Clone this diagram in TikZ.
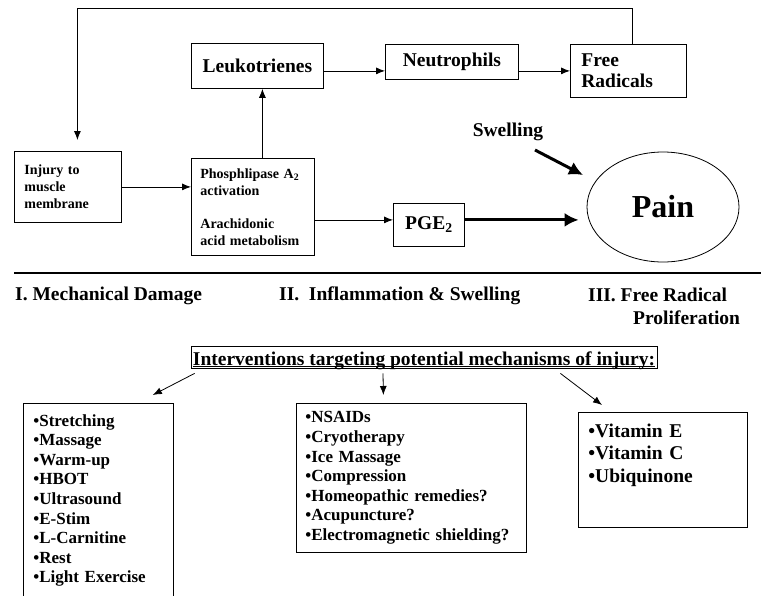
\documentclass[tikz,border=0pt]{standalone}
\usepackage{fontspec}
\setmainfont{Liberation Serif}
\usetikzlibrary{arrows.meta,shapes.geometric}
\begin{document}
\begin{tikzpicture}[x=1pt,y=-1pt,
  box/.style={draw,line width=0.8pt,inner sep=0pt},
  big/.style={font=\fontsize{19.5}{21}\selectfont\bfseries},
  med/.style={font=\fontsize{17}{19.6}\selectfont\bfseries},
  sml/.style={font=\fontsize{14}{17}\selectfont\bfseries},
  arr/.style={line width=0.8pt,-{Latex[length=9pt,width=7pt]}},
  fatarr/.style={line width=3pt,-{Latex[length=14pt,width=14pt]}}]
  \useasboundingbox (0,0) rectangle (761,595);
  \clip (0,0) rectangle (761,595);
  \node[box,sml,anchor=north west,minimum height=71pt,inner xsep=10pt,text width=87pt,align=left] (inj) at (14,151) {Injury to\\muscle\\membrane};
  \node[box,sml,anchor=north west,minimum height=97pt,inner xsep=9pt,text width=105pt,align=left] (phos) at (191,158) {Phosphlipase A\textsubscript{2}\\activation\\[16pt]Arachidonic\\acid metabolism};
  \node[box,big,anchor=north west,minimum width=132pt,minimum height=45pt] (leuk) at (191,43) {Leukotrienes};
  \node[box,big,anchor=north west,minimum width=133pt,minimum height=35pt] (neut) at (385,44) {Neutrophils};
  \node[box,big,anchor=north west,minimum height=53pt,inner xsep=11pt,text width=94pt,align=left] (frad) at (570,44) {Free\\Radicals};
  \node[box,big,anchor=north west,minimum width=71pt,minimum height=43pt] (pge) at (393,203) {PGE\textsubscript{2}};
  \node[draw,line width=0.8pt,ellipse,minimum width=152pt,minimum height=110pt,font=\fontsize{32}{36}\selectfont\bfseries] (pain) at (663,207) {Pain};
  \node[big] (swell) at (508,132) {Swelling};
  \draw[arr,shorten >=11pt] ([xshift=4pt]frad.north) -- ++(0,-36) -| ([xshift=9.5pt]inj.north);
  \draw[arr] (inj.east) -- (inj.east -| phos.west);
  \draw[arr] ([xshift=9.5pt]phos.north) -- ([xshift=9.5pt]phos.north |- leuk.south);
  \draw[arr] (frad.west -| leuk.east) -- (frad.west -| neut.west);
  \draw[arr] (frad.west -| neut.east) -- (frad.west);
  \draw[arr] ([yshift=5pt]pge.west -| phos.east) -- ([yshift=5pt]pge.west);
  \draw[fatarr,shorten >=8pt] ([yshift=5pt]pge.east) -- ([yshift=5pt]pge.east -| pain.west);
  \draw[fatarr] ([shift={(27pt,-18pt)}]swell.center) -- ([shift={(-80pt,32pt)}]pain.center);
  \draw[line width=2.5pt] (14,273) -- (761,273);
  \node[big,anchor=west,inner sep=0pt] (mech) at (15,296) {I. Mechanical Damage};
  \node[big,anchor=west,inner sep=0pt] (infl) at (279,296) {II.\ \ Inflammation \& Swelling};
  \node[big,anchor=north west,align=left,inner sep=0pt] (frp) at (588,288) {III. Free Radical\\[2pt]\hspace*{45pt}Proliferation};
  \node[box,big,inner xsep=2pt,inner ysep=3pt,text height=16pt,text depth=0pt] (ivn) at (424,357) {Interventions targeting potential mechanisms of injury:};
  \draw[line width=0.6pt] ([xshift=2pt,yshift=2pt]ivn.south west) -- ([xshift=-2pt,yshift=2pt]ivn.south east);
  \node[box,med,anchor=north west,inner xsep=10pt,text width=130pt,align=left,minimum height=194pt] (lbox) at (23,403) {\textbullet Stretching\\\textbullet Massage\\\textbullet Warm-up\\\textbullet HBOT\\\textbullet Ultrasound\\\textbullet E-Stim\\\textbullet L-Carnitine\\\textbullet Rest\\\textbullet Light Exercise};
  \node[box,med,anchor=north west,inner xsep=9pt,text width=212pt,align=left,minimum height=149pt] (mbox) at (296,403) {\textbullet NSAIDs\\\textbullet Cryotherapy\\\textbullet Ice Massage\\\textbullet Compression\\\textbullet Homeopathic remedies?\\\textbullet Acupuncture?\\\textbullet Electromagnetic shielding?};
  \node[box,font=\fontsize{19.5}{22.5}\selectfont\bfseries,anchor=north west,inner xsep=10pt,text width=149pt,align=left,minimum height=115pt,text depth=79.3pt] (rbox) at (578,412) {\textbullet Vitamin E\\\textbullet Vitamin C\\\textbullet Ubiquinone};
  \draw[arr] ([xshift=4pt,yshift=-5pt]ivn.south west) -- ([xshift=-21pt,yshift=8pt]lbox.north east);
  \draw[arr] ([xshift=-41pt,yshift=-5pt]ivn.south) -- ([xshift=-28pt,yshift=8pt]mbox.north);
  \draw[arr] ([xshift=-97pt,yshift=-5pt]ivn.south east) -- ([xshift=24pt,yshift=7pt]rbox.north west);
\end{tikzpicture}
\end{document}
